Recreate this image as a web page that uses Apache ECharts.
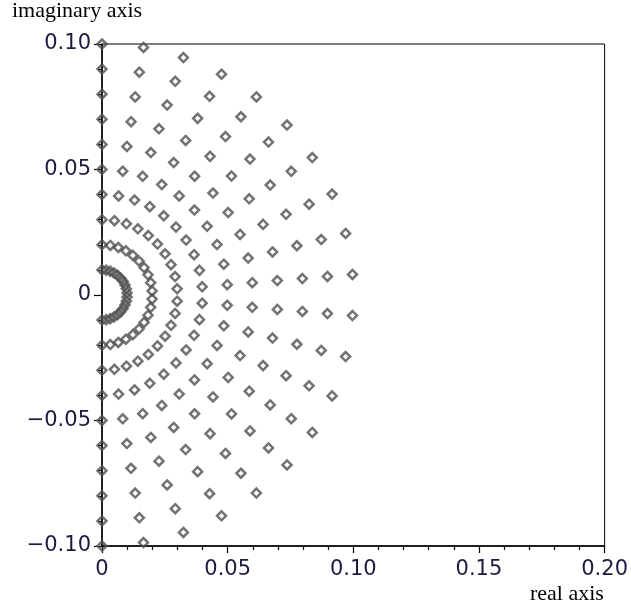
<!DOCTYPE html>
<html>
<head>
<meta charset="utf-8">
<script src="https://cdn.jsdelivr.net/npm/echarts@6/dist/echarts.min.js"></script>
<style>
  html, body { margin: 0; padding: 0; background: #fff; }
  #chart { width: 631px; height: 609px; }
</style>
</head>
<body>
<div id="chart"></div>
<script>
// radii of the half-rings
const radii = [0.01, 0.02, 0.03, 0.04, 0.05, 0.06, 0.07, 0.08, 0.09, 0.10];
// polar angles (degrees) of the rays, same on every ring
const anglesDeg = [90, 80.5, 71.1, 61.6, 52.1, 42.6, 33.2, 23.7, 14.2, 4.7,
  -4.7, -14.2, -23.7, -33.2, -42.6, -52.1, -61.6, -71.1, -80.5, -90];
const xTicks = [0, 0.05, 0.10, 0.15, 0.20];
const yTicks = [-0.10, -0.05, 0, 0.05, 0.10];

// polar -> cartesian points
const points = [];
radii.forEach((r) => {
  anglesDeg.forEach((a) => {
    const t = (a * Math.PI) / 180;
    points.push([r * Math.cos(t), r * Math.sin(t)]);
  });
});

const labelFont = {
  color: "#1c1c40",
  fontFamily: "DejaVu Sans",
  fontSize: 21,
};

const chart = echarts.init(document.getElementById("chart"));
chart.setOption({
  animation: false,
  backgroundColor: "#fff",
  grid: {
    left: 102, right: 24, top: 44, bottom: 63,
    show: true, borderColor: "#000", borderWidth: 1,
  },
  xAxis: {
    type: "value",
    min: xTicks[0], max: xTicks[xTicks.length - 1], interval: 0.05,
    axisLine: { onZero: false, lineStyle: { color: "#000", width: 1.5 } },
    axisTick: { length: 7, lineStyle: { color: "#000", width: 1.2 } },
    minorTick: { show: true, splitNumber: 5, length: 4, lineStyle: { color: "#000", width: 1.2 } },
    splitLine: { show: false },
    axisLabel: Object.assign({
      margin: 13,
      formatter: (v) => (v === 0 ? "0" : v.toFixed(2)),
    }, labelFont),
  },
  yAxis: {
    type: "value",
    min: yTicks[0], max: yTicks[yTicks.length - 1], interval: 0.05,
    axisLine: { onZero: false, lineStyle: { color: "#000", width: 1.5 } },
    axisTick: { length: 8, lineStyle: { color: "#000", width: 1.2 } },
    minorTick: { show: true, splitNumber: 5, length: 4, lineStyle: { color: "#000", width: 1.2 } },
    splitLine: { show: false },
    axisLabel: Object.assign({
      margin: 11,
      formatter: (v) => {
        if (Math.abs(v) < 1e-9) return "0";
        return (v < 0 ? "\u2212" : "") + Math.abs(v).toFixed(2);
      },
    }, labelFont),
  },
  graphic: [
    {
      type: "text", left: 12, top: 0,
      style: { text: "imaginary axis", fontFamily: "Liberation Serif", fontSize: 22, fill: "#000" },
    },
    {
      type: "text", left: 530, top: 583,
      style: { text: "real axis", fontFamily: "Liberation Serif", fontSize: 22, fill: "#000" },
    },
  ],
  series: [
    {
      type: "scatter",
      data: points,
      symbol: "diamond",
      symbolSize: 9,
      clip: false,
      itemStyle: { color: "rgba(0,0,0,0)", borderColor: "#505050", borderWidth: 2.5 },
      z: 3,
    },
  ],
});
</script>
</body>
</html>
